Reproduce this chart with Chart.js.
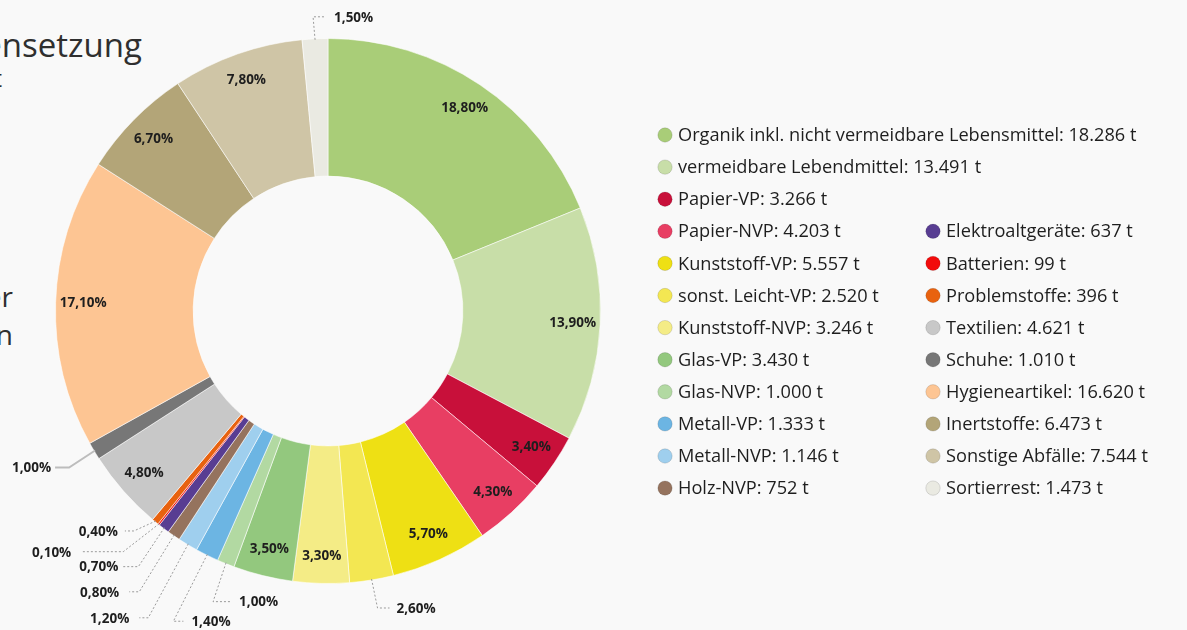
<!DOCTYPE html>
<html lang="de">
<head>
<meta charset="utf-8">
<script src="https://cdn.jsdelivr.net/npm/chart.js@4.4.0/dist/chart.umd.min.js"></script>
<style>
  html, body { margin: 0; padding: 0; background: #f9f9f9; width: 1187px; height: 630px; overflow: hidden; }
  body { position: relative; font-family: "Open Sans", sans-serif; color: #2f2f2f; }
  #wrap { position: absolute; left: 0; top: 0; width: 1187px; height: 630px; }
  .cut { position: absolute; white-space: nowrap; line-height: 1; }
</style>
</head>
<body>
<!-- text of the slide behind the chart, cut off at the left edge -->
<div class="cut" style="right:1045px; top:28px; font-size:33px; font-weight:500;">Zusammensetzung</div>
<div class="cut" style="right:1185px; top:66px; font-size:24px;">in t</div>
<div class="cut" style="right:1174px; top:282px; font-size:28px;">der</div>
<div class="cut" style="right:1174px; top:320px; font-size:28px;">in Tonnen</div>

<div id="wrap"><canvas id="chart"></canvas></div>

<script>
// categories, in drawing order (clockwise from the top)
const names = [
  'Organik inkl. nicht vermeidbare Lebensmittel', 'vermeidbare Lebendmittel',
  'Papier-VP', 'Papier-NVP', 'Kunststoff-VP', 'sonst. Leicht-VP', 'Kunststoff-NVP',
  'Glas-VP', 'Glas-NVP', 'Metall-VP', 'Metall-NVP', 'Holz-NVP',
  'Elektroaltgeräte', 'Batterien', 'Problemstoffe', 'Textilien', 'Schuhe',
  'Hygieneartikel', 'Inertstoffe', 'Sonstige Abfälle', 'Sortierrest'
];
// tonnes
const tonnes = [18286, 13491, 3266, 4203, 5557, 2520, 3246, 3430, 1000, 1333, 1146, 752,
                637, 99, 396, 4621, 1010, 16620, 6473, 7544, 1473];
// percent labels as printed on the slices
const pctLabels = ['18,80%', '13,90%', '3,40%', '4,30%', '5,70%', '2,60%', '3,30%',
                   '3,50%', '1,00%', '1,40%', '1,20%', '0,80%', '0,70%', '0,10%', '0,40%',
                   '4,80%', '1,00%', '17,10%', '6,70%', '7,80%', '1,50%'];
const colors = ['#a9cd78', '#c8dea8', '#c8103a', '#e83e63', '#eee014', '#f3e752', '#f4ec86',
                '#93c87e', '#b2d9a2', '#6cb5e3', '#9fcfee', '#95735e', '#583d92', '#f20c0c',
                '#e8620f', '#c8c8c8', '#777777', '#fdc593', '#b3a578', '#cfc5a6', '#eaeae2'];

// small slices get a leader line: elbow offset from the outer edge, then a short horizontal run
const callouts = [
  { i: 20, dx: -2,  dy: -23, h: 12,  gap: 9 },
  { i: 16, dx: -26, dy: 17,  h: -14, gap: 4, solid: true },
  { i: 14, dx: -22, dy: 10,  h: -9,  gap: 7 },
  { i: 13, dx: -36, dy: 28,  h: -42, gap: 10 },
  { i: 12, dx: -26, dy: 39,  h: -17, gap: 3 },
  { i: 11, dx: -35, dy: 57,  h: -10, gap: 10 },
  { i: 10, dx: -40, dy: 74,  h: -9,  gap: 10 },
  { i: 9,  dx: -34, dy: 67,  h: 10,  gap: 8 },
  { i: 8,  dx: -13, dy: 39,  h: 17,  gap: 9 },
  { i: 5,  dx: 6,   dy: 29,  h: 12,  gap: 7 }
];

function fmt(n) {
  return String(n).replace(/\B(?=(\d{3})+(?!\d))/g, '.');
}

const labelPlugin = {
  id: 'wasteLabels',
  afterDatasetsDraw(chart) {
    const ctx = chart.ctx;
    const arcs = chart.getDatasetMeta(0).data;
    const outside = callouts.map(c => c.i);
    ctx.save();
    ctx.font = 'bold 13.5px "Open Sans"';
    ctx.fillStyle = '#1e1e1e';
    ctx.textBaseline = 'middle';
    arcs.forEach((arc, i) => {
      if (outside.includes(i)) return;
      const p = arc.getProps(['x', 'y', 'startAngle', 'endAngle', 'innerRadius', 'outerRadius'], true);
      const mid = (p.startAngle + p.endAngle) / 2;
      const r = p.innerRadius + 0.8 * (p.outerRadius - p.innerRadius);
      ctx.textAlign = 'center';
      ctx.fillText(pctLabels[i], p.x + Math.cos(mid) * r, p.y + Math.sin(mid) * r);
    });
    callouts.forEach(c => {
      const p = arcs[c.i].getProps(['x', 'y', 'startAngle', 'endAngle', 'outerRadius'], true);
      const mid = (p.startAngle + p.endAngle) / 2;
      const x0 = p.x + Math.cos(mid) * (p.outerRadius - 1);
      const y0 = p.y + Math.sin(mid) * (p.outerRadius - 1);
      const x1 = x0 + c.dx, y1 = y0 + c.dy, x2 = x1 + c.h;
      ctx.beginPath();
      if (c.solid) {
        ctx.setLineDash([]);
        ctx.strokeStyle = '#bdbdbd';
        ctx.lineWidth = 2;
      } else {
        ctx.setLineDash([2, 2]);
        ctx.strokeStyle = '#9a9a9a';
        ctx.lineWidth = 1;
      }
      ctx.moveTo(x0, y0);
      ctx.lineTo(x1, y1);
      ctx.lineTo(x2, y1);
      ctx.stroke();
      ctx.setLineDash([]);
      ctx.textAlign = c.h < 0 ? 'right' : 'left';
      ctx.fillText(pctLabels[c.i], c.h < 0 ? x2 - c.gap : x2 + c.gap, y1 + 1);
    });
    ctx.restore();
  },
  afterDraw(chart) {
    // two column legend, right column starts at the fourth row
    const ctx = chart.ctx;
    const bg = chart.data.datasets[0].backgroundColor;
    ctx.save();
    ctx.font = '18.2px "Open Sans"';
    ctx.textBaseline = 'middle';
    ctx.textAlign = 'left';
    chart.data.labels.forEach((lab, i) => {
      const col = i < 12 ? 0 : 1;
      const row = col === 0 ? i : i - 12 + 3;
      const cx = col === 0 ? 665 : 933;
      const cy = 135 + row * 32.1;
      ctx.beginPath();
      ctx.arc(cx, cy, 7.2, 0, Math.PI * 2);
      ctx.fillStyle = bg[i];
      ctx.fill();
      ctx.lineWidth = 1;
      ctx.strokeStyle = 'rgba(0,0,0,0.12)';
      ctx.stroke();
      ctx.fillStyle = '#1e1e1e';
      ctx.fillText(lab + ': ' + fmt(tonnes[i]) + ' t', cx + 13, cy + 1);
    });
    ctx.restore();
  }
};

new Chart(document.getElementById('chart'), {
  type: 'doughnut',
  data: {
    labels: names,
    datasets: [{
      data: tonnes,
      backgroundColor: colors,
      borderColor: 'rgba(255,255,255,0.55)',
      borderWidth: 1,
      hoverOffset: 0
    }]
  },
  options: {
    responsive: true,
    maintainAspectRatio: false,
    animation: false,
    cutout: '49.5%',
    layout: { padding: { left: 55, top: 38, right: 586, bottom: 46 } },
    plugins: {
      legend: { display: false },
      tooltip: { enabled: false }
    }
  },
  plugins: [labelPlugin]
});
</script>
</body>
</html>
